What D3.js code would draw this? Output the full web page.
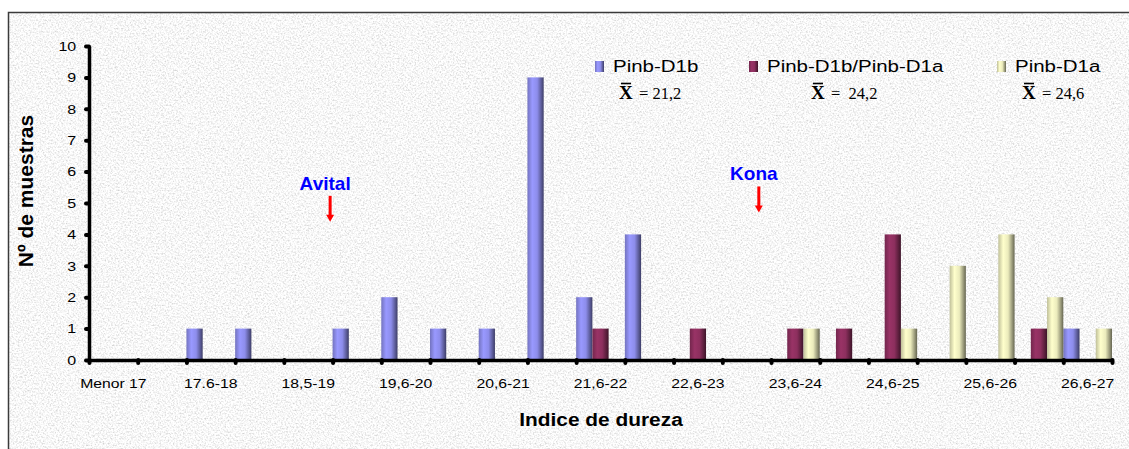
<!DOCTYPE html>
<html>
<head>
<meta charset="utf-8">
<script src="https://cdn.jsdelivr.net/npm/d3@7"></script>
<style>
  body { margin: 0; background: #fff; }
  svg { display: block; font-family: Arial, "Liberation Sans", sans-serif; }
</style>
</head>
<body>
<svg id="chart"></svg>
<script>
// Hardness classes (only every other one carries a label on the axis)
const tickLabels = ["Menor 17", "", "17.6-18", "", "18,5-19", "", "19,6-20", "", "20,6-21", "",
                    "21,6-22", "", "22,6-23", "", "23,6-24", "", "24,6-25", "", "25,6-26", "", "26,6-27"]

// Number of samples per class, one array per genotype
const pinbD1b     = [0, 0, 1, 1, 0, 1, 2, 1, 1, 9, 2, 4, 0, 0, 0, 0, 0, 0, 0, 0, 1]
const pinbD1bD1a  = [0, 0, 0, 0, 0, 0, 0, 0, 0, 0, 1, 0, 1, 0, 1, 1, 4, 0, 0, 1, 0]
const pinbD1a     = [0, 0, 0, 0, 0, 0, 0, 0, 0, 0, 0, 0, 0, 0, 1, 0, 1, 3, 4, 2, 1]

const seriesNames = ["Pinb-D1b", "Pinb-D1b/Pinb-D1a", "Pinb-D1a"]
const seriesMeans = ["= 21,2", "=  24,2", "= 24,6"]
const seriesColors = ["#9999ff", "#993366", "#ffffcc"]

// Reference varieties marked with arrows (position in class units, height in samples)
const markers = [
    {label: "Avital", pos: 4.95, tip: 4.4},
    {label: "Kona",   pos: 13.75, tip: 4.7}
]

const yTicks = d3.range(0, 11)

// Canvas
const W = 1129, H = 449
const plot = {left: 89, right: 1112, top: 46, bottom: 360}

const svg = d3.select("#chart").attr("width", W).attr("height", H)
const defs = svg.append("defs")

// Granite-like background texture
const noise = defs.append("filter").attr("id", "granite")
    .attr("x", 0).attr("y", 0).attr("width", "100%").attr("height", "100%")
noise.append("feTurbulence")
    .attr("type", "fractalNoise").attr("baseFrequency", 0.6).attr("numOctaves", 3).attr("seed", 7)
noise.append("feColorMatrix").attr("type", "matrix")
    .attr("values", "0.75 0 0 0 0.56  0.75 0 0 0 0.56  0.75 0 0 0 0.56  0 0 0 0 1")

svg.append("rect").attr("width", W).attr("height", H).attr("fill", "#fff")
svg.append("rect")
    .attr("x", 8).attr("y", 12).attr("width", W).attr("height", H)
    .attr("fill", "#ececec")
    .attr("filter", "url(#granite)")
svg.append("rect")
    .attr("x", 8.5).attr("y", 12.5).attr("width", W).attr("height", H)
    .attr("fill", "none").attr("stroke", "#3a3a3a").attr("stroke-width", 1.5)

// Cylinder shading for the bars
seriesColors.forEach((c, i) => {
    const base = d3.rgb(c)
    const g = defs.append("linearGradient").attr("id", "grad" + i)
        .attr("x1", 0).attr("x2", 1).attr("y1", 0).attr("y2", 0)
    const stops = [[0, 0.75], [0.3, 1.0], [0.6, 0.92], [0.85, 0.6], [1, 0.4]]
    stops.forEach(([o, k]) => {
        g.append("stop").attr("offset", o)
            .attr("stop-color", d3.rgb(base.r * k, base.g * k, base.b * k).formatHex())
    })
})

// Scales
const x = d3.scaleBand()
    .domain(d3.range(tickLabels.length))
    .range([plot.left, plot.right])
    .padding(0)

const xSub = d3.scaleBand()
    .domain(d3.range(seriesNames.length))
    .range([0, x.bandwidth()])
    .padding(0)

const xBound = d3.scaleLinear()
    .domain([0, tickLabels.length])
    .range([plot.left, plot.right])

const y = d3.scaleLinear()
    .domain([0, 10])
    .range([plot.bottom, plot.top])

// Bars
const allSeries = [pinbD1b, pinbD1bD1a, pinbD1a]
allSeries.forEach((values, s) => {
    svg.append("g").selectAll("rect")
        .data(values.map((v, i) => ({i, v})).filter(d => d.v > 0))
        .enter()
        .append("rect")
        .attr("x", d => x(d.i) + xSub(s))
        .attr("y", d => y(d.v))
        .attr("width", xSub.bandwidth())
        .attr("height", d => y(0) - y(d.v))
        .attr("fill", "url(#grad" + s + ")")
})

// Y axis
const yAxis = svg.append("g")
    .attr("transform", "translate(" + plot.left + ",0)")
    .call(d3.axisLeft(y).tickValues(yTicks).tickSize(3).tickSizeOuter(0))
yAxis.select(".domain").attr("stroke", "#000").attr("stroke-width", 3.5)
yAxis.selectAll(".tick line").attr("stroke", "#000").attr("stroke-width", 4).attr("stroke-linecap", "round")
yAxis.selectAll(".tick text")
    .attr("x", -10).attr("dy", "0.35em")
    .attr("font-size", "12.5px").attr("fill", "#000")
    .attr("transform", "scale(1.28,1)")

// X axis: tick marks at class boundaries
const xTickAxis = svg.append("g")
    .attr("transform", "translate(0," + plot.bottom + ")")
    .call(d3.axisBottom(xBound).tickValues(d3.range(tickLabels.length + 1)).tickFormat("").tickSize(3).tickSizeOuter(0))
xTickAxis.select(".domain").attr("stroke", "#000").attr("stroke-width", 3.5)
xTickAxis.selectAll(".tick line").attr("stroke", "#000").attr("stroke-width", 4).attr("stroke-linecap", "round")

// X axis: class labels centred in the bands
const xLabelAxis = svg.append("g")
    .attr("transform", "translate(0," + plot.bottom + ")")
    .call(d3.axisBottom(x).tickFormat(i => tickLabels[i]).tickSize(0).tickSizeOuter(0))
xLabelAxis.select(".domain").remove()
xLabelAxis.selectAll(".tick text")
    .attr("y", 28).attr("dy", 0)
    .attr("font-size", "12.5px").attr("fill", "#000")
    .attr("transform", "scale(1.26,1)")

// Axis titles
svg.append("text")
    .attr("transform", "translate(601,426) scale(1.16,1)")
    .attr("text-anchor", "middle")
    .attr("font-size", "18px").attr("font-weight", "bold")
    .text("Indice de dureza")

svg.append("text")
    .attr("transform", "translate(33,191) rotate(-90)")
    .attr("text-anchor", "middle")
    .attr("font-size", "21px").attr("font-weight", "bold")
    .text("Nº de muestras")

// Legend
const legendX = [595, 749, 997]
seriesNames.forEach((name, i) => {
    const g = svg.append("g").attr("transform", "translate(" + legendX[i] + ",0)")
    g.append("rect")
        .attr("x", 0).attr("y", 61).attr("width", 9).attr("height", 11)
        .attr("fill", "url(#grad" + i + ")")
    g.append("text")
        .attr("transform", "translate(18,72) scale(1.28,1)")
        .attr("font-size", "16px").attr("fill", "#000")
        .text(name)
})

// Means under each legend entry
const meanX = [619, 811, 1022]
seriesMeans.forEach((m, i) => {
    const g = svg.append("g").attr("transform", "translate(" + meanX[i] + ",99)")
    g.append("text")
        .attr("font-family", "'Liberation Serif', 'Times New Roman', serif")
        .attr("font-weight", "bold").attr("font-size", "19px")
        .text("X")
    g.append("line")
        .attr("x1", 2).attr("x2", 12).attr("y1", -15.5).attr("y2", -15.5)
        .attr("stroke", "#000").attr("stroke-width", 1.6)
    g.append("text")
        .attr("x", 20)
        .attr("font-family", "'Liberation Serif', 'Times New Roman', serif")
        .attr("font-size", "16.5px").attr("xml:space", "preserve")
        .style("white-space", "pre")
        .text(m)
})

// Variety markers
const markerG = svg.append("g").selectAll("g")
    .data(markers)
    .enter()
    .append("g")
    .attr("transform", d => "translate(" + xBound(d.pos) + "," + y(d.tip) + ")")
markerG.append("line")
    .attr("x1", 0).attr("x2", 0).attr("y1", -26).attr("y2", -6)
    .attr("stroke", "#ff0000").attr("stroke-width", 3)
markerG.append("path")
    .attr("d", "M-4,-7 L4,-7 L0,0 Z")
    .attr("fill", "#ff0000")
markerG.append("text")
    .attr("x", -5).attr("y", -32)
    .attr("text-anchor", "middle")
    .attr("font-size", "19px").attr("font-weight", "bold")
    .attr("fill", "#0000ff")
    .text(d => d.label)
</script>
</body>
</html>
